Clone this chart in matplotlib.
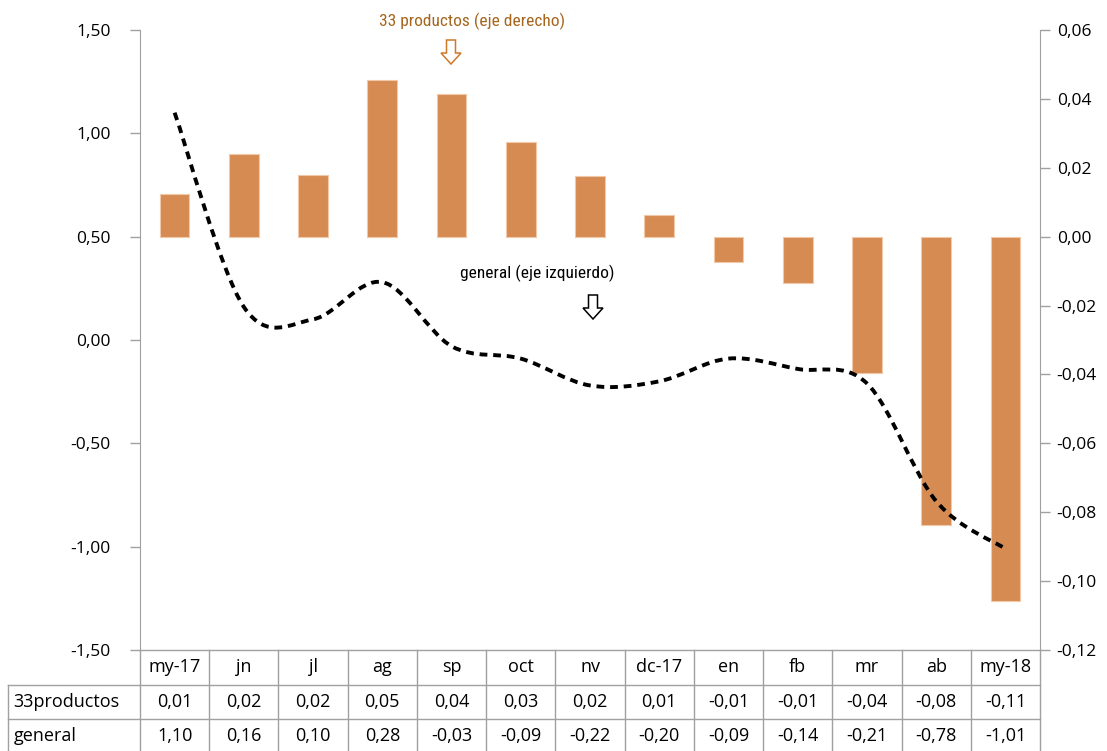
import matplotlib
matplotlib.use("Agg")
import matplotlib.pyplot as plt
from matplotlib.path import Path
from matplotlib.patches import PathPatch, FancyArrow
import matplotlib.transforms as mtransforms

plt.rcParams['font.family'] = ['Open Sans', 'DejaVu Sans']

categories = ["my-17", "jn", "jl", "ag", "sp", "oct", "nv", "dc-17", "en", "fb", "mr", "ab", "my-18"]
productos33 = [0.0124, 0.0240, 0.0179, 0.0455, 0.0414, 0.0275, 0.0176, 0.0063,
               -0.0073, -0.0134, -0.0396, -0.0837, -0.1058]
general = [1.10, 0.16, 0.10, 0.28, -0.03, -0.09, -0.22, -0.20, -0.09, -0.14, -0.21, -0.78, -1.01]
row_labels = ["33productos", "general"]

bar_color = "#D68B52"
grid_gray = "#A0A0A0"


def fmt(v):
    s = "{:.2f}".format(v).replace(".", ",")
    return s.replace("-0,00", "0,00")


def smooth_path(xs, ys):
    # excel-like smoothed line: bezier with catmull-rom control points
    n = len(xs)
    verts = [(xs[0], ys[0])]
    codes = [Path.MOVETO]
    for i in range(n - 1):
        x0, y0 = xs[max(i - 1, 0)], ys[max(i - 1, 0)]
        x1, y1 = xs[i], ys[i]
        x2, y2 = xs[i + 1], ys[i + 1]
        x3, y3 = xs[min(i + 2, n - 1)], ys[min(i + 2, n - 1)]
        c1 = (x1 + (x2 - x0) / 6, y1 + (y2 - y0) / 6)
        c2 = (x2 - (x3 - x1) / 6, y2 - (y3 - y1) / 6)
        verts += [c1, c2, (x2, y2)]
        codes += [Path.CURVE4] * 3
    return Path(verts, codes)


W, H = 1107, 751
fig = plt.figure(figsize=(W / 100, H / 100), dpi=100)
ax = fig.add_axes([140 / W, 1 - 650 / H, 900 / W, 620 / H])
ax2 = ax.twinx()

x = list(range(len(categories)))
ax2.bar(x, productos33, width=0.43, color=bar_color, edgecolor="#F2C9A8", linewidth=0.8, zorder=2)

ax.set_zorder(ax2.get_zorder() + 1)
ax.patch.set_visible(False)
ax.add_patch(PathPatch(smooth_path(x, general), fill=False, edgecolor="black",
                       linewidth=2.8, linestyle=(0, (2.0, 1.5)), zorder=3))

ax.set_xlim(-0.5, len(categories) - 0.5)
ax.set_ylim(-1.5, 1.5)
ax.set_yticks([-1.5, -1.0, -0.5, 0.0, 0.5, 1.0, 1.5])
ax.set_yticklabels([fmt(v) for v in ax.get_yticks()])
ax2.set_ylim(-0.12, 0.06)
ax2.set_yticks([-0.12, -0.10, -0.08, -0.06, -0.04, -0.02, 0.0, 0.02, 0.04, 0.06])
ax2.set_yticklabels([fmt(v) for v in ax2.get_yticks()])

for a in (ax, ax2):
    a.set_xticks([])
    for s in ("top", "bottom"):
        a.spines[s].set_visible(False)
    a.tick_params(axis="y", length=7, width=1, color=grid_gray, labelsize=12.5, pad=14)
ax.spines["right"].set_visible(False)
ax2.spines["left"].set_visible(False)
ax.spines["left"].set_color(grid_gray)
ax2.spines["right"].set_color(grid_gray)
ax2.tick_params(axis="y", pad=5)

# table under the plot
tr = mtransforms.blended_transform_factory(ax.transData, ax.transAxes)
row_y = [0.0, -35 / 620, -69 / 620, -103 / 620]
x_left = -0.5 - 132 / (900 / 13)
x_right = len(categories) - 0.5
line_kw = dict(color=grid_gray, linewidth=1, transform=tr, clip_on=False)
ax.plot([-0.5, x_right], [0, 0], **line_kw)
for yy in row_y[1:3]:
    ax.plot([x_left, x_right], [yy, yy], **line_kw)
for k in range(len(categories) + 1):
    ax.plot([k - 0.5, k - 0.5], [0, row_y[3]], **line_kw)
ax.plot([x_left, x_left], [row_y[1], row_y[3]], **line_kw)

txt_kw = dict(transform=tr, fontsize=13, va="center", clip_on=False)
for i, c in enumerate(categories):
    ax.text(i, (row_y[0] + row_y[1]) / 2, c, ha="center", **txt_kw)
    ax.text(i, (row_y[1] + row_y[2]) / 2, fmt(productos33[i]), ha="center", **txt_kw)
    ax.text(i, (row_y[2] + row_y[3]) / 2, fmt(general[i]), ha="center", **txt_kw)
ax.text(x_left + 0.08, (row_y[1] + row_y[2]) / 2, row_labels[0], ha="left", **txt_kw)
ax.text(x_left + 0.08, (row_y[2] + row_y[3]) / 2, row_labels[1], ha="left", **txt_kw)

# annotations
narrow = ['Liberation Sans Narrow', 'Roboto Condensed', 'DejaVu Sans']
fig.text(472 / W, 1 - 21 / H, "33 productos (eje derecho)", ha="center", va="center",
         fontsize=12.5, color="#A5651C", family=narrow)
fig.text(537 / W, 1 - 273 / H, "general (eje izquierdo)", ha="center", va="center",
         fontsize=12.5, color="black", family=narrow)
for (ax_x, ay, col) in [(451, 40, "#D0782A"), (593, 295, "black")]:
    fig.patches.append(FancyArrow(ax_x / W, 1 - ay / H, 0, -24 / H, width=9 / W,
                                  head_width=20 / W, head_length=11 / H,
                                  length_includes_head=True, facecolor="white",
                                  edgecolor=col, linewidth=1.1, transform=fig.transFigure))

fig.savefig("out.png", dpi=100)
